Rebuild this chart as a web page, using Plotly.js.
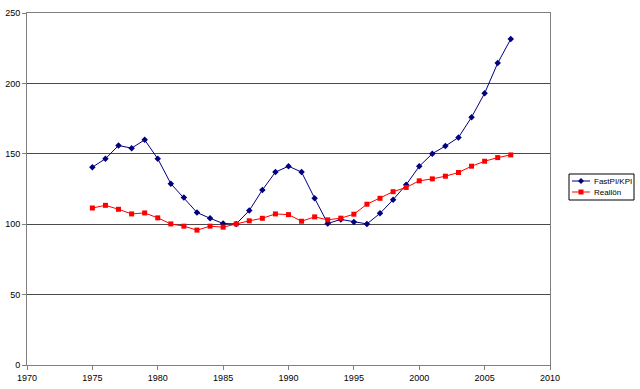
<!DOCTYPE html>
<html><head><meta charset="utf-8">
<script src="https://cdn.plot.ly/plotly-3.0.1.min.js"></script>
<style>html,body{margin:0;padding:0;background:#fff;}#c{width:640px;height:389px;}</style>
</head><body><div id="c"></div>
<script>
const years = [1975,1976,1977,1978,1979,1980,1981,1982,1983,1984,1985,1986,1987,1988,1989,1990,1991,1992,1993,1994,1995,1996,1997,1998,1999,2000,2001,2002,2003,2004,2005,2006,2007];
const fastpiKpi = [140.5,146.5,155.9,154,159.9,146.5,128.8,118.9,108.3,104.2,100.5,100.2,109.7,124.3,137,141.2,137,118.4,100.5,103.4,101.6,100.2,107.7,117.4,128,141.1,150.1,155.5,161.6,176,193,214.4,231.5];
const reallon = [111.5,113.4,110.6,107.3,108,104.5,100.2,98.6,95.8,98.6,97.9,100.2,102.4,104.2,107.3,106.8,102.1,105.2,103.1,104.3,107.1,114.2,118.4,123.1,126.1,130.8,132.2,134.1,136.7,141.2,144.7,147.3,149.2];
const seriesNames = ['FastPI/KPI','Reallön'];
const seriesColors = ['#000080','#FF0000'];

const traces = [
  {x: years, y: fastpiKpi, name: seriesNames[0], type: 'scatter', mode: 'lines+markers',
   line: {color: seriesColors[0], width: 1}, marker: {symbol: 'diamond', size: 5, color: seriesColors[0]}},
  {x: years, y: reallon, name: seriesNames[1], type: 'scatter', mode: 'lines+markers',
   line: {color: seriesColors[1], width: 1}, marker: {symbol: 'square', size: 5, color: seriesColors[1]}}
];

// Custom compact legend (Excel-style), placed in paper coordinates
const L = 27, W = 523, B = 365, H = 352;
const px = v => (v - L) / W, py = v => (B - v) / H;
const rows = [181, 192];
const shapes = [
  {type: 'rect', xref: 'paper', yref: 'paper', x0: px(569), x1: px(634), y0: py(200), y1: py(174),
   line: {color: '#000', width: 1}, fillcolor: '#fff', layer: 'above'}
];
const annotations = [];
rows.forEach((r, i) => {
  shapes.push({type: 'line', xref: 'paper', yref: 'paper', x0: px(572), x1: px(590), y0: py(r), y1: py(r),
    line: {color: seriesColors[i], width: 1}, layer: 'above'});
  const cx = 581, s = i === 0 ? 3 : 2.5;
  const path = i === 0
    ? `M ${px(cx)} ${py(r - s)} L ${px(cx + s)} ${py(r)} L ${px(cx)} ${py(r + s)} L ${px(cx - s)} ${py(r)} Z`
    : `M ${px(cx - s)} ${py(r - s)} L ${px(cx + s)} ${py(r - s)} L ${px(cx + s)} ${py(r + s)} L ${px(cx - s)} ${py(r + s)} Z`;
  shapes.push({type: 'path', xref: 'paper', yref: 'paper', path: path,
    line: {color: seriesColors[i], width: 0}, fillcolor: seriesColors[i], layer: 'above'});
  annotations.push({xref: 'paper', yref: 'paper', x: px(592), y: py(r), xanchor: 'left', yanchor: 'middle',
    text: seriesNames[i], showarrow: false, font: {size: 8, color: '#000'}});
});

const layout = {
  width: 640, height: 389,
  margin: {l: 27, r: 90, t: 13, b: 24, autoexpand: false},
  paper_bgcolor: '#fff', plot_bgcolor: '#fff',
  font: {family: 'Liberation Sans, Arial, sans-serif', size: 9, color: '#000'},
  showlegend: false,
  xaxis: {range: [1970, 2010], dtick: 5, tick0: 1970, showgrid: false, zeroline: false,
          showline: true, linecolor: '#808080', linewidth: 1, mirror: true,
          ticks: 'outside', ticklen: 4, tickcolor: '#808080', tickfont: {size: 9}},
  yaxis: {range: [0, 250], dtick: 50, showgrid: true, gridcolor: '#4a4a4a', gridwidth: 1, zeroline: false,
          showline: true, linecolor: '#808080', linewidth: 1, mirror: true,
          ticks: 'outside', ticklen: 4, tickcolor: '#808080', tickfont: {size: 9}},
  shapes: shapes,
  annotations: annotations
};
Plotly.newPlot('c', traces, layout, {displayModeBar: false, staticPlot: true});
</script></body></html>
